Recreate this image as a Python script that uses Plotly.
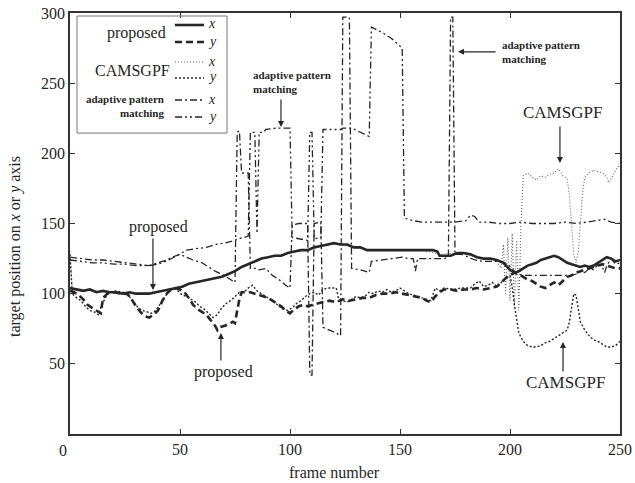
import plotly.graph_objects as go

# ---------------- data ----------------
prop_x_f = [0,3,6,9,12,15,18,21,24,27,30,33,36,39,42,45,48,51,54,57,60,63,66,69,72,75,78,81,84,87,90,93,96,99,102,105,108,111,114,117,120,123,126,129,132,135,138,141,144,147,150,155,160,165,167,168,170,173,176,179,182,185,188,191,194,197,200,202,204,206,208,210,212,214,216,218,220,222,224,226,228,230,232,234,236,238,240,242,244,246,248,250]
prop_x_v = [104,103,102,103,101,102,101,101,100,101,100,100,100,101,102,103,104,105,107,108,109,110,111,112,114,116,119,121,123,125,126,127,127,129,130,131,131,133,134,135,136,135,135,133,133,131,131,131,131,131,131,131,131,131,130,127,127,127,129,129,128,126,125,125,124,122,117,115,116,118,120,121,122,124,125,126,127,126,124,122,121,120,119,120,119,120,122,124,126,125,123,124]

prop_y_f = [0,2,4,6,8,10,12,14,15,17,20,23,26,28,30,32,34,36,38,40,42,44,46,48,50,52,54,56,58,60,62,64,66,67,68,70,72,74,75,76,77,78,80,82,84,86,88,90,92,94,96,98,100,102,104,106,108,110,112,115,118,121,124,127,130,133,136,139,142,145,148,151,154,157,160,162,164,166,168,170,173,176,179,182,185,188,191,194,196,198,200,202,204,206,208,210,212,214,216,218,220,222,224,226,228,230,232,234,236,238,240,242,244,246,248,250]
prop_y_v = [102,101,99,96,92,90,88,86,97,100,101,100,100,96,91,87,84,83,85,88,95,100,103,104,103,101,97,92,89,87,85,81,77,74,76,77,78,80,79,88,96,101,101,101,100,99,98,97,95,93,91,88,86,89,91,92,91,92,93,94,95,94,96,95,96,97,97,99,100,100,101,100,99,98,97,95,94,98,101,103,103,102,103,103,104,103,104,105,108,111,113,115,114,112,110,109,107,105,104,106,108,106,109,112,113,115,116,117,118,119,120,121,120,119,118,118]

cam_x_f = [0,1,6,12,18,24,30,36,42,48,54,60,66,72,78,84,90,96,102,108,114,120,126,132,138,150,160,168,176,182,188,194,196,197,198,199,200,201,202,203,204,205,206,208,210,212,214,216,218,220,222,224,226,227,228,229,230,231,232,233,234,236,238,240,242,244,245,246,248,250]
cam_x_v = [130,104,103,102,101,101,100,101,102,104,107,109,111,114,119,123,126,128,130,131,134,136,134,132,131,131,131,128,129,128,125,123,118,135,100,140,95,143,90,138,88,150,184,186,183,181,184,183,185,186,189,184,182,170,145,128,122,130,150,172,183,186,188,187,186,183,179,182,188,192]

cam_y_f = [0,1,3,5,7,9,11,13,14,16,18,21,24,27,29,31,33,35,37,39,41,43,45,47,49,51,53,55,57,59,61,63,65,67,69,71,73,75,77,79,81,83,85,87,89,91,93,95,97,99,101,103,105,107,109,111,113,115,117,119,121,122,124,126,128,130,132,134,136,138,140,142,144,146,148,150,152,154,156,158,160,162,164,166,168,170,174,178,182,184,186,188,190,192,194,196,198,200,201,202,203,204,206,208,210,212,214,216,218,220,222,224,226,227,228,229,230,231,232,234,236,238,240,242,244,246,248,250]
cam_y_v = [128,100,97,95,91,88,87,85,90,97,101,102,101,98,94,90,88,87,86,88,93,98,102,104,102,99,98,96,94,91,89,86,83,85,90,93,95,98,101,101,104,106,102,100,98,96,94,91,89,88,90,93,95,98,100,101,99,103,104,104,104,97,95,94,96,98,97,98,101,100,102,101,103,101,102,104,102,100,99,98,97,96,95,104,102,104,103,104,104,107,109,105,106,108,105,108,111,113,105,92,80,72,66,63,62,62,63,65,66,68,70,72,74,80,92,100,99,90,80,74,70,67,66,64,62,62,63,66]

apm_x_f = [0,5,10,15,20,25,30,36,40,44,48,50,53,56,60,63,66,70,73,75,76,77,78,81,82,85,86,88,89,92,95,98,100,101,104,108,109,110,111,114,115,118,121,123,124,127,128,132,136,137,142,147,151,154,156,157,158,162,166,170,172,173,174,175,178,181,184,188,192,196,199,201,203,206,210,215,220,225,228,230,232,234,236,238,240,242,243,244,246,248,250]
apm_x_v = [126,125,124,124,123,122,121,120,122,124,127,128,126,124,122,119,116,113,110,108,215,216,186,186,118,118,117,118,118,113,110,106,104,149,150,150,42,42,150,151,76,74,72,70,297,297,118,117,115,123,124,125,126,125,125,116,125,125,125,125,126,297,297,128,128,126,124,123,123,123,121,118,114,113,113,113,113,113,113,114,116,115,118,117,121,119,115,120,125,121,122]

apm_y_f = [0,5,10,15,20,25,30,36,40,45,50,53,57,62,66,70,75,76,79,81,82,84,85,86,88,89,94,100,101,104,108,109,110,111,114,115,119,123,124,127,128,132,136,137,142,146,151,152,156,160,165,170,175,180,182,184,186,190,195,200,205,210,215,220,225,230,235,240,243,246,250]
apm_y_v = [124,123,122,122,121,121,120,120,121,124,128,131,132,133,135,136,138,139,140,141,215,215,143,215,215,217,218,218,140,139,138,215,215,139,140,217,217,217,218,218,218,215,212,290,286,282,275,154,152,151,151,151,151,152,156,155,151,151,150,150,151,150,150,150,151,150,151,152,153,151,150]

x_ticks = [50, 100, 150, 200, 250]
y_ticks = [50, 100, 150, 200, 250, 300]

# ---------------- styling ----------------
SERIF = "Liberation Serif"
INK = "#262626"

series = [
    (apm_x_f, apm_x_v, dict(color=INK, width=1.3, dash="7px,3px,2px,3px")),
    (apm_y_f, apm_y_v, dict(color=INK, width=1.3, dash="7px,3px,2px,3px,2px,3px")),
    (cam_x_f, cam_x_v, dict(color="#666666", width=1.1, dash="1px,2px")),
    (cam_y_f, cam_y_v, dict(color=INK, width=1.4, dash="2px,2px")),
    (prop_y_f, prop_y_v, dict(color=INK, width=2.6, dash="7px,4px")),
    (prop_x_f, prop_x_v, dict(color=INK, width=2.6, dash="solid")),
]

fig = go.Figure()
for f, v, ln in series:
    fig.add_trace(go.Scatter(x=f, y=v, mode="lines", line=ln, showlegend=False,
                             hoverinfo="skip"))

# plot-area geometry (pixels) used for paper-coordinate decorations
L, R, T, B = 70, 620, 13, 434
def px(xp):
    return (xp - L) / (R - L)
def py(yp):
    return (B - yp) / (B - T)

shapes = []
annots = []

def ptext(xp, yp, text, size=16, xanchor="center", align="center", angle=0):
    annots.append(dict(xref="paper", yref="paper", x=px(xp), y=py(yp), text=text,
                       showarrow=False, xanchor=xanchor, yanchor="middle", align=align,
                       textangle=angle, font=dict(family=SERIF, size=size, color=INK)))

# hand-drawn style legend box
shapes.append(dict(type="rect", xref="paper", yref="paper",
                   x0=px(77), x1=px(227), y0=py(133), y1=py(16),
                   line=dict(color="#777777", width=1)))
key_rows = [25, 42, 62, 78, 100, 117]
key_labels = ["x", "y", "x", "y", "x", "y"]
for (f, v, ln), yy, lab in zip([series[5], series[4], series[2], series[3], series[0], series[1]],
                              key_rows, key_labels):
    shapes.append(dict(type="line", xref="paper", yref="paper",
                       x0=px(175), x1=px(204), y0=py(yy), y1=py(yy),
                       line=dict(color=ln["color"], width=ln["width"], dash=ln["dash"])))
    ptext(212, yy - 1, f"<i>{lab}</i>", size=14)
ptext(168, 33, "proposed", xanchor="right")
ptext(172, 70, "CAMSGPF", xanchor="right")
ptext(166, 106.5, "<b>adaptive pattern</b><br><b>matching</b>", size=11,
      xanchor="right", align="right")

# callouts: arrows (tip in data coords) and their texts
def arrow(x, y, ax, ay):
    annots.append(dict(x=x, y=y, xref="x", yref="y", ax=ax, ay=ay, text="",
                       showarrow=True, arrowhead=2, arrowsize=1, arrowwidth=1.2,
                       arrowcolor=INK))
def label(x, y, text, size=16, xanchor="center", align="center"):
    annots.append(dict(x=x, y=y, xref="x", yref="y", text=text, showarrow=False,
                       xanchor=xanchor, yanchor="middle", align=align,
                       font=dict(family=SERIF, size=size, color=INK)))

arrow(37.7, 102.6, 0, -53)
label(40.2, 147.3, "proposed")
arrow(68.6, 72, 0, 29)
label(69.8, 44.2, "proposed")
arrow(95.9, 218.8, 0, -29)
label(82.3, 250.9, "<b>adaptive pattern</b><br><b>matching</b>", size=11, xanchor="left", align="left")
arrow(176.4, 272.3, 39, 0)
label(195.5, 271.9, "<b>adaptive pattern</b><br><b>matching</b>", size=11, xanchor="left", align="left")
arrow(222.7, 193.2, 0, -38)
label(223.9, 228.8, "CAMSGPF", size=17)
arrow(224.1, 65.6, 0, 31)
label(225.0, 36.4, "CAMSGPF", size=17)

# shared corner "0" label
annots.append(dict(x=0, y=0, xref="x", yref="y", text="0", showarrow=False,
                   xanchor="center", yanchor="middle",
                   xshift=-7, yshift=-16, font=dict(family=SERIF, size=16, color=INK)))
# axis titles
ptext(15, 247, "target position on <i>x</i> or <i>y</i> axis", angle=-90)
ptext(334, 472, "frame number")

axis_common = dict(showline=True, linecolor="#333333", linewidth=1.5, mirror="ticks",
                   ticks="inside", ticklen=5, tickwidth=1.2, tickcolor="#333333",
                   showgrid=False, zeroline=False, automargin=False,
                   tickfont=dict(family=SERIF, size=16, color=INK))

fig.update_layout(
    width=635, height=483,
    margin=dict(l=L, r=635 - R, t=T, b=483 - B, autoexpand=False),
    paper_bgcolor="white", plot_bgcolor="white",
    xaxis=dict(range=[0, 250], tickvals=x_ticks, **axis_common),
    yaxis=dict(range=[0, 300], tickvals=y_ticks, **axis_common),
    shapes=shapes, annotations=annots,
    font=dict(family=SERIF, color=INK),
)

fig.write_html("out.html", config={"displayModeBar": False},
               post_script="document.body.style.margin='0';document.body.style.overflow='hidden';")
